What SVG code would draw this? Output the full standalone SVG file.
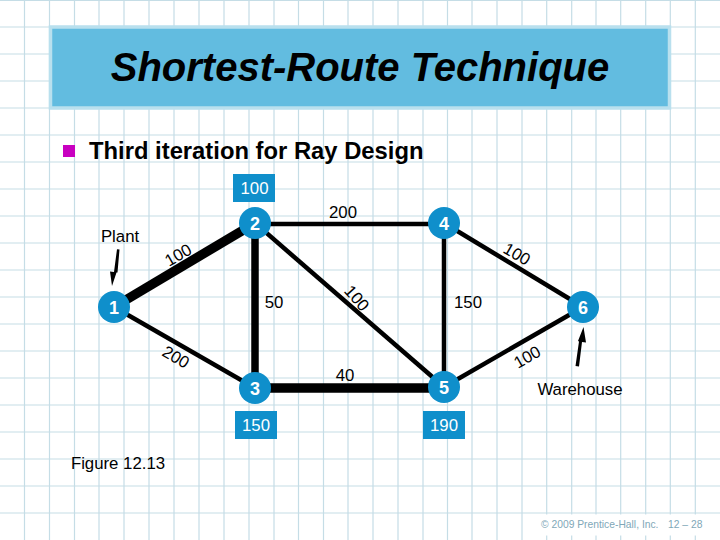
<svg xmlns="http://www.w3.org/2000/svg" width="720" height="540" viewBox="0 0 720 540">
<style>
text{font-family:"Liberation Sans",Arial,sans-serif;fill:#000}
.grid{stroke:#c5dde6;stroke-width:1.2;fill:none}
.lbl{font-size:16.800px;text-anchor:middle}
.ed{stroke:#000;fill:none}
.t{stroke-width:4.5}.m{stroke-width:7.500}.h{stroke-width:9.500}
.n{fill:#0f8fcb}
.nt{font-size:18px;font-weight:bold;fill:#fff;text-anchor:middle}
.bx{fill:#0f8fcb}
.bt{font-size:16.800px;fill:#fff;text-anchor:middle}
.ft{font-size:10.300px;fill:#7fa8b8}
</style>
<rect width="720" height="540" fill="#fff"/>
<path class="grid" d="M24.5 0V540M49.5 0V540M74.5 0V540M99 0V540M124 0V540M149 0V540M174 0V540M199 0V540M224 0V540M249 0V540M274 0V540M298.5 0V540M323.5 0V540M348 0V540M373 0V540M398 0V540M423 0V540M447.5 0V540M472 0V540M497 0V540M522 0V540M546.7 0V540M571.7 0V540M596 0V540M620.7 0V540M645.7 0V540M670.3 0V540M695.3 0V540M0 0.5H720M0 27H720M0 54H720M0 81H720M0 108H720M0 135H720M0 162H720M0 189H720M0 216H720M0 243H720M0 270H720M0 297H720M0 324H720M0 351H720M0 378H720M0 405H720M0 432H720M0 459H720M0 486H720M0 513H720"/>
<rect x="530" y="514.500" width="190" height="21" fill="#fff"/>
<rect x="50.500" y="27" width="619" height="81" fill="#62bce0" stroke="#b9e0ee" stroke-width="3.500"/>
<text x="360" y="81" font-size="40" font-weight="bold" font-style="italic" text-anchor="middle">Shortest-Route Technique</text>
<rect x="63" y="145" width="12" height="12" fill="#c800c0"/>
<text x="89" y="159" font-size="23.800" font-weight="bold">Third iteration for Ray Design</text>
<g id="connectors">
<line class="ed h" x1="114" y1="307" x2="255" y2="223"/>
<line class="ed t" x1="114" y1="307" x2="255" y2="388"/>
<line class="ed m" x1="255" y1="223" x2="255" y2="388"/>
<line class="ed t" x1="255" y1="224" x2="444" y2="224"/>
<line class="ed t" x1="255" y1="223" x2="444" y2="387"/>
<line class="ed h" x1="255" y1="388" x2="444" y2="388"/>
<line class="ed t" x1="444" y1="223" x2="444" y2="387"/>
<line class="ed t" x1="444" y1="223" x2="583" y2="307"/>
<line class="ed t" x1="444" y1="387" x2="583" y2="307"/>
<path d="M119.500 249.500L117 249.200L114 272L110 271.500L112 286L116.500 272.500L117.500 272.500Z" fill="#000"/>
<path d="M575.500 366L579 366.500L582 342L586 342.500L583.500 327L578 341L579 341.500Z" fill="#000"/>
</g>
<g id="node1"><circle class="n" cx="114" cy="307" r="16"/><text class="nt" x="114" y="313.500">1</text></g>
<g id="node2"><circle class="n" cx="255" cy="223" r="16"/><text class="nt" x="255" y="229.500">2</text><rect class="bx" x="233" y="174" width="42" height="28"/><text class="bt" x="254.500" y="194">100</text></g>
<g id="node3"><circle class="n" cx="255" cy="388" r="16"/><text class="nt" x="255" y="394.500">3</text><rect class="bx" x="235" y="411" width="42" height="28"/><text class="bt" x="256" y="431">150</text></g>
<g id="node4"><circle class="n" cx="444" cy="223" r="16"/><text class="nt" x="444" y="229.500">4</text></g>
<g id="node5"><circle class="n" cx="444" cy="387" r="16"/><text class="nt" x="444" y="393.500">5</text><rect class="bx" x="423" y="411" width="42" height="28"/><text class="bt" x="444" y="431">190</text></g>
<g id="node6"><circle class="n" cx="583" cy="307" r="16"/><text class="nt" x="583" y="313.500">6</text></g>
<text class="lbl" x="120" y="242">Plant</text>
<text class="lbl" x="343" y="218">200</text>
<text class="lbl" x="274" y="308">50</text>
<text class="lbl" x="468" y="308">150</text>
<text class="lbl" x="345" y="381">40</text>
<text class="lbl" x="580" y="395">Warehouse</text>
<text class="lbl" x="118" y="469">Figure 12.13</text>
<text class="lbl" transform="translate(181 260) rotate(-30)">100</text>
<text class="lbl" transform="translate(173 362) rotate(30)">200</text>
<text class="lbl" transform="translate(352.500 302) rotate(48)">100</text>
<text class="lbl" transform="translate(514 259) rotate(30)">100</text>
<text class="lbl" transform="translate(530 362) rotate(-30)">100</text>
<text class="ft" x="541" y="528">© 2009 Prentice-Hall, Inc.</text>
<text class="ft" x="668" y="528">12 – 28</text>
</svg>
